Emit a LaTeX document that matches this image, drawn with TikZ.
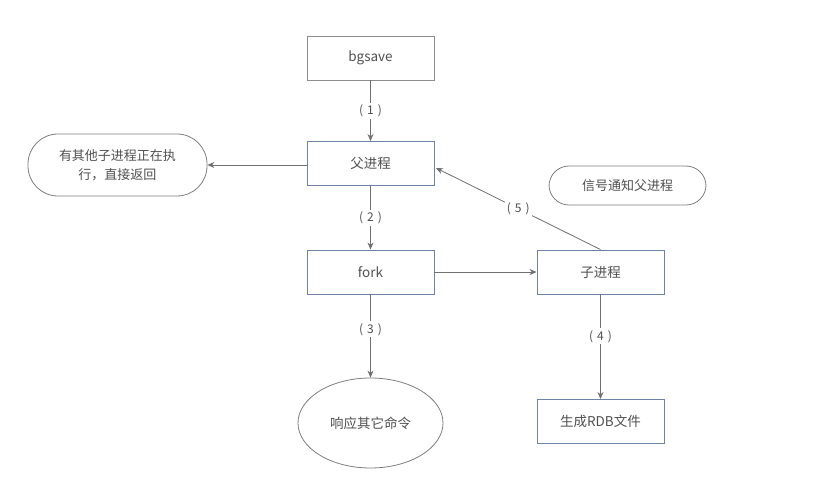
\documentclass[tikz,border=0pt]{standalone}
\usepackage{fontspec}
\setmainfont{Noto Sans CJK SC}
\usetikzlibrary{arrows.meta,shapes.geometric}
\definecolor{bordblue}{HTML}{6F82A8}
\definecolor{txt}{HTML}{505050}
\definecolor{ln}{HTML}{707070}
\tikzset{
  box/.style={draw=bordblue, line width=0.9pt, minimum width=127pt, minimum height=44pt, inner sep=0pt, text=txt, font=\fontsize{13.5}{15}\selectfont},
  pill/.style={draw=ln!90, line width=0.8pt, rounded corners=20pt, inner sep=0pt, text=txt, font=\fontsize{13}{19}\selectfont, align=center},
  conn/.style={draw=ln, line width=0.8pt, -{Stealth[length=7pt,width=6pt]}},
  lab/.style={fill=white, inner sep=2pt, text=txt, font=\fontsize{12}{14}\selectfont}
}
\newcommand{\plab}[1]{(\hspace{4pt}#1\hspace{4pt})}
\begin{document}
\begin{tikzpicture}[x=1pt,y=-1pt]
\useasboundingbox[fill=white] (0,0) rectangle (823,489);
\node[box, draw=ln!80] (bg) at (370.5,58) {bgsave};
\node[box] (fu) at (370.5,163.5) {父进程};
\node[box] (fork) at (370.5,272) {fork};
\node[box] (zi) at (600.5,272) {子进程};
\node[box] (rdb) at (600.5,421.5) {生成RDB文件};
\node[draw=ln!90, line width=0.8pt, ellipse, minimum width=145pt, minimum height=90pt, inner sep=0pt, text=txt, font=\fontsize{13.5}{15}\selectfont] (resp) at (370.5,423) {响应其它命令};
\node[pill, minimum width=179pt, minimum height=62pt, rounded corners=30pt] (ret) at (117.5,165) {有其他子进程正在执\\行，直接返回};
\node[pill, minimum width=157pt, minimum height=39pt] (sig) at (627.5,185.5) {信号通知父进程};
\draw[conn] (bg) -- node[lab]{\plab{1}} (fu);
\draw[conn] (fu.west |- 0,165) -- (ret.east);
\draw[conn] (fu) -- node[lab]{\plab{2}} (fork);
\draw[conn] (fork) -- (zi);
\draw[conn] (fork) -- node[lab, pos=0.42]{\plab{3}} (resp);
\draw[conn] (zi) -- node[lab, pos=0.4]{\plab{4}} (rdb);
\coordinate (fuR) at (436,168);
\draw[conn] (zi.north) -- node[lab, pos=0.5]{\plab{5}} (fuR);
\end{tikzpicture}
\end{document}
